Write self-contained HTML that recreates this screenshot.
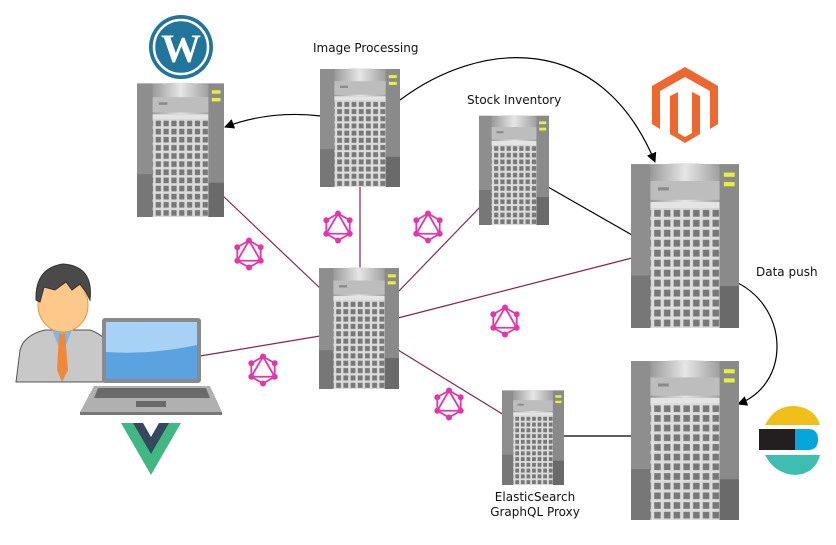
<!DOCTYPE html>
<html><head><meta charset="utf-8"><style>
html,body{margin:0;padding:0;background:#fff;width:836px;height:545px;overflow:hidden}
text{font-family:"DejaVu Sans","Liberation Sans",sans-serif;font-size:12px;fill:#111}
</style></head><body>
<svg width="836" height="545" viewBox="0 0 836 545" xmlns="http://www.w3.org/2000/svg">
<defs>
<linearGradient id="tg" x1="0" y1="0" x2="1" y2="0"><stop offset="0" stop-color="#9a9a9a"/><stop offset="0.5" stop-color="#e6e6e6"/><stop offset="1" stop-color="#a0a0a0"/></linearGradient>
<pattern id="grid" width="9" height="9.5" patternUnits="userSpaceOnUse" x="20" y="46"><rect width="9" height="9.5" fill="#dcdcdc"/><rect x="1.5" y="1.5" width="6" height="6.5" fill="#777"/></pattern>
<symbol id="srv" viewBox="0 0 100 160" preserveAspectRatio="none">
<rect x="0" y="4" width="100" height="156" fill="#999"/>
<rect x="0" y="4" width="18" height="156" fill="#8e8e8e"/>
<rect x="0" y="110" width="18" height="50" fill="#777"/>
<rect x="82" y="4" width="18" height="156" fill="#8a8a8a"/>
<rect x="82" y="120" width="18" height="40" fill="#6a6a6a"/>
<path d="M18 6 Q50 0 82 6 L82 40 L18 40 Z" fill="url(#tg)"/>
<rect x="18" y="20" width="64" height="18" fill="#bdbdbd"/>
<rect x="25" y="26" width="10" height="3" fill="#8a8a8a"/>
<rect x="18" y="40" width="64" height="6" fill="#e4e4e4"/>
<rect x="18" y="46" width="64" height="114" fill="url(#grid)"/>
<rect x="86" y="12" width="10" height="4" fill="#e6f23a"/>
<rect x="86" y="21" width="10" height="4" fill="#e6f23a"/>
</symbol>
<symbol id="gql" viewBox="-20 -20 40 40">
<g stroke="#e535ab" stroke-width="2" fill="none">
<polygon points="0,-15 13,-7.5 13,7.5 0,15 -13,7.5 -13,-7.5"/>
<polygon points="0,-15 13,7.5 -13,7.5"/>
</g>
<g fill="#e535ab"><circle cx="0" cy="-15" r="3.3"/><circle cx="13" cy="-7.5" r="3.3"/><circle cx="13" cy="7.5" r="3.3"/><circle cx="0" cy="15" r="3.3"/><circle cx="-13" cy="7.5" r="3.3"/><circle cx="-13" cy="-7.5" r="3.3"/></g>
</symbol>
<marker id="ar" markerWidth="10" markerHeight="10" refX="9" refY="5" orient="auto" markerUnits="userSpaceOnUse"><path d="M0,0 L10,5 L0,10 Z" fill="#000"/></marker>
</defs>

<g stroke="#8b2252" stroke-width="1.2" fill="none">
<line x1="222" y1="195" x2="322" y2="290"/>
<line x1="360" y1="186" x2="360" y2="268"/>
<line x1="398" y1="292" x2="482" y2="205"/>
<line x1="398" y1="318" x2="632" y2="258"/>
<line x1="398" y1="350" x2="504" y2="415"/>
<line x1="200" y1="356" x2="320" y2="336"/>
</g>
<g stroke="#000" stroke-width="1.2" fill="none">
<line x1="548" y1="187" x2="632" y2="235"/>
<line x1="562" y1="436" x2="632" y2="436"/>
<path d="M321 116 Q270 110 225 127" marker-end="url(#ar)"/>
<path d="M400 100 C480 40 600 30 655 162" marker-end="url(#ar)"/>
<path d="M738 283 C790 310 790 385 738 404" marker-end="url(#ar)"/>
</g>

<use href="#srv" x="137" y="80" width="87" height="137"/>
<use href="#srv" x="320" y="66" width="80" height="121"/>
<use href="#srv" x="479" y="113" width="70" height="112"/>
<use href="#srv" x="319" y="265" width="80" height="124"/>
<use href="#srv" x="631" y="160" width="108" height="168"/>
<use href="#srv" x="631" y="357" width="108" height="163"/>
<use href="#srv" x="502" y="388" width="62" height="97"/>

<use href="#gql" x="320" y="209" width="36" height="36"/>
<use href="#gql" x="410" y="209" width="36" height="36"/>
<use href="#gql" x="231" y="236" width="36" height="36"/>
<use href="#gql" x="487" y="303" width="36" height="36"/>
<use href="#gql" x="245" y="352" width="36" height="36"/>
<use href="#gql" x="431" y="386" width="36" height="36"/>

<circle cx="181" cy="47" r="32" fill="#21759b"/>
<circle cx="181" cy="47" r="27" fill="none" stroke="#fff" stroke-width="2.5"/>
<text x="181" y="62" text-anchor="middle" style="font-family:'Liberation Serif',serif;font-size:40px;font-weight:bold;fill:#fff">W</text>

<polygon points="685,67 718,86 718,124 710,129 710,91 685,77 660,91 660,129 652,124 652,86" fill="#ee672f"/>
<polygon points="670,96 678,92 678,133 685,137 692,133 692,92 700,96 700,134 685,143 670,134" fill="#ee672f"/>

<path d="M765 425 Q775 405 795 406 Q815 408 820 425 Z" fill="#f0bf1a"/>
<rect x="759" y="429" width="36" height="21" fill="#231f20"/>
<path d="M795 429 L808 429 Q818 429 818 439.5 Q818 450 808 450 L795 450 Z" fill="#07a5de"/>
<path d="M765 455 L820 455 Q815 474 795 475 Q775 474 765 455 Z" fill="#3ebeb0"/>

<path d="M16 382 L20 350 Q24 335 45 330 L90 330 Q108 336 110 352 L110 382 Z" fill="#c8c8c8" stroke="#555" stroke-width="1"/>
<path d="M52 330 L62 355 L72 330 Z" fill="#7fb7e6"/>
<path d="M59 334 L65 334 L68 370 L62 382 L57 370 Z" fill="#f0883a"/>
<ellipse cx="63" cy="305" rx="25" ry="27" fill="#fdc98a" stroke="#e8953e" stroke-width="1"/>
<path d="M36 300 Q35 268 63 264 Q94 266 90 300 L86 292 L80 284 L72 290 L66 282 L55 290 L44 287 L40 302 Z" fill="#4a4a4a" stroke="#333" stroke-width="1"/>

<rect x="102" y="318" width="99" height="65" rx="3" fill="#8a8a8a"/>
<rect x="106" y="322" width="91" height="57" fill="#5aa2e0"/>
<path d="M106 322 L197 322 L197 345 Q150 355 106 352 Z" fill="#a8d2f5"/>
<path d="M94 386 L210 386 L222 412 L80 412 Z" fill="#b0b0b0"/>
<path d="M98 388 L206 388 L210 398 L94 398 Z" fill="#6a6a6a"/>
<rect x="136" y="401" width="30" height="6" fill="#6a6a6a"/>
<rect x="80" y="412" width="142" height="3" fill="#777"/>

<polygon points="121,423 138,423 151,445 164,423 181,423 151,475" fill="#41b883"/>
<polygon points="133,423 143,423 151,437 159,423 169,423 151,454" fill="#35495e"/>

<text x="313" y="52">Image Processing</text>
<text x="467" y="104">Stock Inventory</text>
<text x="756" y="276">Data push</text>
<text x="535" y="501" text-anchor="middle">ElasticSearch</text>
<text x="535" y="516" text-anchor="middle">GraphQL Proxy</text>
</svg>
</body></html>
